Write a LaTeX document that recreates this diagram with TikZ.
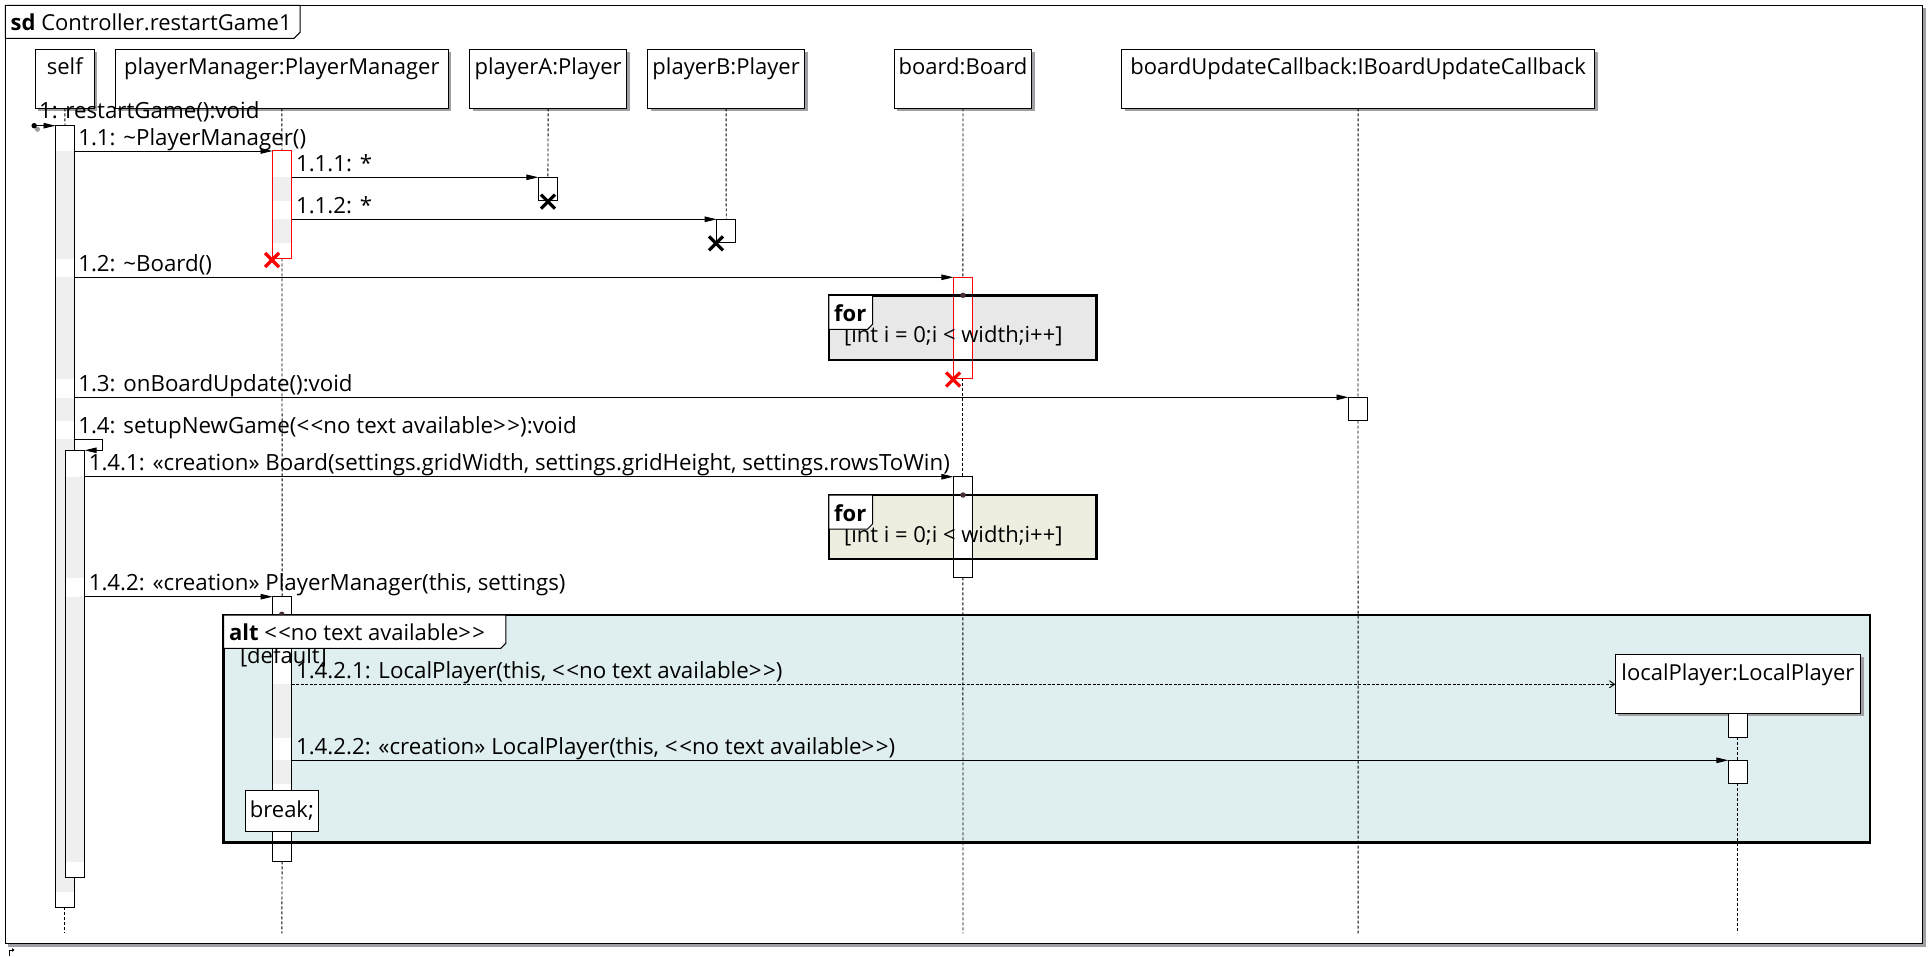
\documentclass[tikz,border=0pt]{standalone}
\usepackage{fontspec}
\setmainfont{Open Sans}
\usetikzlibrary{arrows.meta}

% literal double angle brackets (no guillemet ligature)
\newcommand\ltlt{<\kern1.5pt<}
\newcommand\gtgt{>\kern1.5pt>}
\newcommand\notext{\ltlt no text available\gtgt}

\definecolor{barshade}{HTML}{EFEFEF}
\definecolor{shadowgray}{HTML}{A0A0A4}
\definecolor{forgray}{HTML}{E8E8E8}
\definecolor{forbeige}{HTML}{EEEEE0}
\definecolor{altcyan}{HTML}{DFEEEE}
\definecolor{dotcol}{HTML}{4A2F3A}
\definecolor{killred}{HTML}{FF0000}

\begin{document}
\begin{tikzpicture}[x=1pt,y=-1pt,
  every node/.style={inner sep=0pt, outer sep=0pt},
  font=\fontsize{22}{26}\selectfont,
  head/.style={draw, fill=white, line width=1pt, minimum height=59, anchor=north west,
    preaction={fill=shadowgray, transform canvas={shift={(3pt,-3pt)}}}},
  lifeline/.style={line width=0.9pt, dash pattern=on 3pt off 2pt},
  bar/.style={draw, fill=white, line width=1pt, minimum width=19, anchor=north west},
  redbar/.style={bar, draw=killred},
  band/.style={fill=barshade},
  frameline/.style={line width=2.5pt},
  tab/.style={draw, fill=white, line width=1pt},
  msg/.style={line width=0.9pt, -{Triangle[length=12pt,width=5.5pt]}},
  createmsg/.style={line width=0.9pt, dash pattern=on 3pt off 1.5pt, -{Straight Barb[length=5pt,width=7pt]}},
  lbl/.style={anchor=base west},
  msglbl/.style={anchor=base west, font=\fontsize{22.3}{26}\selectfont},
  xmark/.style={line width=3.2pt},
  lldot/.style={circle, fill=dotcol, minimum size=5.5},
]
\useasboundingbox (0,0) rectangle (1929,957);

% ---------- diagram frame ----------
\fill[shadowgray] (8.3,8.3) rectangle (1925.5,946.5);
\draw[line width=1pt, fill=white] (5.3,5.3) rectangle (1922.5,943.3);
\draw[tab] (5.3,5.3) -- (300,5.3) -- (300,32.3) -- (294,38.3) -- (5.3,38.3) -- cycle;
\node[lbl] (title) at (10.7,30.7) {\textbf{sd} Controller.restartGame1};
\draw[line width=0.9pt, -{Triangle[length=2.5pt,width=3.5pt]}] (9,955.5) -- (9,950) -- (14.5,950);

% ---------- combined fragment backgrounds ----------
\fill[forgray] (828.8,295.3) rectangle (1096.7,360);
\fill[forbeige] (828.8,495) rectangle (1096.7,559);
\fill[altcyan] (223.7,615) rectangle (1870,842.7);

% ---------- lifeline heads ----------
\node[head, minimum width=59]    (hself) at (35.3,49.3) {};
\node[head, minimum width=333]   (hpm)   at (115.3,49.3) {};
\node[head, minimum width=157.3] (hpa)   at (469.5,49.3) {};
\node[head, minimum width=157.2] (hpb)   at (647.5,49.3) {};
\node[head, minimum width=137.4] (hbd)   at (894.3,49.3) {};
\node[head, minimum width=473]   (hcb)   at (1121.6,49.3) {};
\node[head, minimum width=245.4] (hlp)   at (1615.2,654.3) {};

\node[anchor=base] (tself) at (hself.north |- 0,75) {self};
\node[anchor=base] (tpm)   at (hpm.north |- 0,75) {playerManager:PlayerManager};
\node[anchor=base] (tpa)   at (hpa.north |- 0,75) {playerA:Player};
\node[anchor=base] (tpb)   at (hpb.north |- 0,75) {playerB:Player};
\node[anchor=base] (tbd)   at (hbd.north |- 0,75) {board:Board};
\node[anchor=base] (tcb)   at (hcb.north |- 0,75) {boardUpdateCallback:IBoardUpdateCallback};
\node[anchor=base] (tlp)   at (hlp.north |- 0,680) {localPlayer:LocalPlayer};

% ---------- activation bars ----------
\node[bar, minimum height=781.6]          (selfA) at (55.5,125.7) {};
\node[redbar, minimum height=107.3]       (pmA)   at (272.5,151) {};
\node[bar, minimum height=23.4]           (paA)   at (538.4,177.3) {};
\node[bar, minimum height=23]             (pbA)   at (716.7,219.3) {};
\node[redbar, minimum height=101]         (bdA)   at (953.4,277.3) {};
\node[bar, minimum height=23.4]           (cbA)   at (1348.5,397.3) {};
\node[bar, minimum height=100.6]          (bdB)   at (953.4,476.7) {};
\node[bar, minimum height=264.6]          (pmB)   at (272.6,596.7) {};
\node[bar, minimum height=24]             (lpA)   at (1728.4,713.3) {};
\node[bar, minimum height=23]             (lpB)   at (1728.4,760.3) {};

% ---------- lifelines ----------
\coordinate (llend) at (0,933.3);
\draw[lifeline] (hself.south) -- (selfA.north);
\draw[lifeline] (selfA.south -| hself.south) -- (hself.south |- llend);
\draw[lifeline] (hpm.south) -- (pmA.north);
\draw[lifeline] (pmA.south) -- (pmB.north);
\draw[lifeline] (pmB.south) -- (hpm.south |- llend);
\draw[lifeline] (hpa.south) -- (paA.north);
\draw[lifeline] (hpb.south) -- (pbA.north);
\draw[lifeline] (hbd.south) -- (bdA.north);
\draw[lifeline] (bdA.south) -- (bdB.north);
\draw[lifeline] (bdB.south) -- (hbd.south |- llend);
\draw[lifeline] (hcb.south) -- (cbA.north);
\draw[lifeline] (cbA.south) -- (hcb.south |- llend);
\draw[lifeline] (lpA.south) -- (lpB.north);
\draw[lifeline] (lpB.south) -- (hlp.south |- llend);

% redraw bars over the lifelines, with execution shading
\node[bar, minimum height=781.6]    (selfA) at (55.5,125.7) {};
\fill[band] (56,151) rectangle (74,259);
\fill[band] (56,277.3) rectangle (74,379);
\fill[band] (56,397.7) rectangle (74,421);
\fill[band] (56,439.3) rectangle (74,891.7);
\node[bar, minimum height=427]      (selfB) at (65.6,450.3) {};
\fill[band] (66.1,476.7) rectangle (84.1,578.3);
\fill[band] (66.1,596.7) rectangle (84.1,861.7);
\node[redbar, minimum height=107.3] (pmA)   at (272.5,151) {};
\fill[band] (273,177.3) rectangle (291,201);
\fill[band] (273,219.3) rectangle (291,242.7);
\node[redbar, minimum height=101]   (bdA)   at (953.4,277.3) {};
\node[bar, minimum height=100.6]    (bdB)   at (953.4,476.7) {};
\node[bar, minimum height=264.6]    (pmB)   at (272.6,596.7) {};
\fill[band] (273.1,684.3) rectangle (291.1,737.7);
\fill[band] (273.1,760.3) rectangle (291.1,784);

% ---------- combined fragment borders ----------
\draw[frameline] (828.8,295.3) rectangle (1096.7,360);
\draw[frameline] (828.8,495) rectangle (1096.7,559);
\draw[frameline] (223.7,615) rectangle (1870,842.7);

\node[lldot] (d1) at (hbd.south |- 0,295.3) {};
\node[lldot] (d2) at (hbd.south |- 0,495) {};
\node[lldot] (d3) at (hpm.south |- 0,614.3) {};

\node[lbl] (g1) at (844,342.7) {[int i = 0;i < width;i++]};
\node[lbl] (g2) at (844,542.4) {[int i = 0;i < width;i++]};
\node[lbl] (g3) at (240,663.5) {[default]};

\draw[tab] (828.8,295.3) -- (872.5,295.3) -- (872.5,324.3) -- (867.5,329.3) -- (828.8,329.3) -- cycle;
\node[lbl] (f1) at (834.2,321.7) {\textbf{for}};
\draw[tab] (828.8,495) -- (872.5,495) -- (872.5,524) -- (867.5,529) -- (828.8,529) -- cycle;
\node[lbl] (f2) at (834.2,521.4) {\textbf{for}};
\draw[tab] (223.7,615) -- (505.8,615) -- (505.8,643.3) -- (500.8,648.3) -- (223.7,648.3) -- cycle;
\node[lbl] (f3) at (229,640) {\textbf{alt} \notext};

\node[draw, fill=white, line width=1pt, minimum width=73.8, minimum height=41, anchor=north west] (brk) at (245,790.3) {};
\node[anchor=base] (brktxt) at (brk.center |- 0,817) {break;};

% ---------- messages ----------
\coordinate (m1)    at (0,125.7);
\coordinate (m11)   at (0,151);
\coordinate (m111)  at (0,177.3);
\coordinate (m112)  at (0,219.3);
\coordinate (m12)   at (0,277.3);
\coordinate (m13)   at (0,397.3);
\coordinate (m14)   at (0,439.3);
\coordinate (m141)  at (0,476.7);
\coordinate (m142)  at (0,596.7);
\coordinate (m1421) at (0,684.3);
\coordinate (m1422) at (0,760.3);

\fill[shadowgray] (37.5,129.3) circle (2.6);
\node[circle, fill=black, minimum size=5.5] (found) at (34.2,125.7) {};
\draw[msg] (found.center) -- (selfA.west |- m1);
\draw[msg] (selfA.east |- m11) -- (pmA.west |- m11);
\draw[msg] (pmA.east |- m111) -- (paA.west |- m111);
\draw[msg] (pmA.east |- m112) -- (pbA.west |- m112);
\draw[msg] (selfA.east |- m12) -- (bdA.west |- m12);
\draw[msg] (selfA.east |- m13) -- (cbA.west |- m13);
\draw[msg] (selfA.east |- m14) -- ++(28.3,0) |- (selfB.north east);
\draw[msg] (selfB.east |- m141) -- (bdB.west |- m141);
\draw[msg] (selfB.east |- m142) -- (pmB.west |- m142);
\draw[createmsg] (pmB.east |- m1421) -- (hlp.west |- m1421);
\draw[msg] (pmB.east |- m1422) -- (lpB.west |- m1422);

% ---------- message labels ----------
\node[msglbl] (l1)    at (39,118.5)   {1: restartGame():void};
\node[msglbl] (l11)   at (78.3,145.3) {1.1: \textasciitilde PlayerManager()};
\node[msglbl] (l111)  at (296,171.3)  {1.1.1: *};
\node[msglbl] (l112)  at (296,213.3)  {1.1.2: *};
\node[msglbl] (l12)   at (78.3,271.3) {1.2: \textasciitilde Board()};
\node[msglbl] (l13)   at (78.3,391.3) {1.3: onBoardUpdate():void};
\node[msglbl] (l14)   at (78.3,433.3) {1.4: setupNewGame(\notext):void};
\node[msglbl] (l141)  at (88.8,470.7) {1.4.1: «creation» Board(settings.gridWidth, settings.gridHeight, settings.rowsToWin)};
\node[msglbl] (l142)  at (88.8,590.7) {1.4.2: «creation» PlayerManager(this, settings)};
\node[msglbl] (l1421) at (296,678.3)  {1.4.2.1: LocalPlayer(this, \notext)};
\node[msglbl] (l1422) at (296,754.3)  {1.4.2.2: «creation» LocalPlayer(this, \notext)};

% ---------- destruction marks ----------
\draw[xmark, killred] (265,253) -- (279,267) (265,267) -- (279,253);
\draw[xmark] (541,194.7) -- (555,208.7) (541,208.7) -- (555,194.7);
\draw[xmark] (709,236.3) -- (723,250.3) (709,250.3) -- (723,236.3);
\draw[xmark, killred] (946.2,372.5) -- (960.2,386.5) (946.2,386.5) -- (960.2,372.5);

\end{tikzpicture}
\end{document}
